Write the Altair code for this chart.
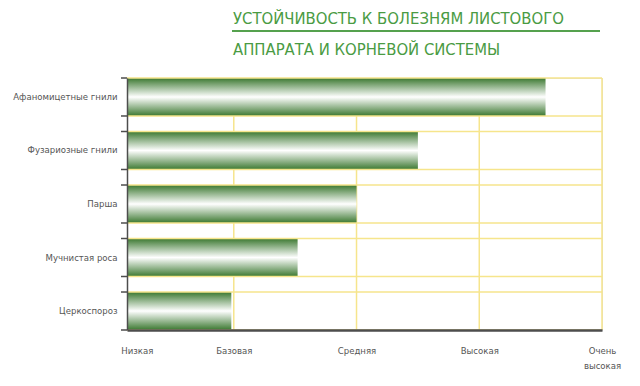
import altair as alt
import pandas as pd

# ---- data ----
categories = ["Афаномицетные гнили", "Фузариозные гнили", "Парша", "Мучнистая роса", "Церкоспороз"]
values = [3.54, 2.5, 2.0, 1.52, 0.98]
level_labels = ["Низкая", "Базовая", "Средняя", "Высокая", "Очень высокая"]
level_positions = [0.21, 1, 2, 3, 4]
grid_values = [1, 2, 3, 4]
x_domain = [0.13, 4]
title_lines = ["УСТОЙЧИВОСТЬ К БОЛЕЗНЯМ ЛИСТОВОГО", "АППАРАТА И КОРНЕВОЙ СИСТЕМЫ"]

W, H = 475, 252
PAD_INNER = 0.29
step = H / (len(categories) - PAD_INNER)
half_bw = step * (1 - PAD_INNER) / 2

FONT = "DejaVu Sans Condensed"
GREEN = "#3b7830"
YELLOW = "#f6e58c"
AXIS_GRAY = "#4d4d4d"
TEXT_GRAY = "#555555"
TITLE_GREEN = "#4a9b43"

df = pd.DataFrame({"cat": categories, "val": values})
grid_df = pd.DataFrame({"g": grid_values})

# label expression built from the lists
expr = "''"
for pos, lab in zip(reversed(level_positions), reversed(level_labels)):
    parts = lab.split(" ")
    txt = "[" + ",".join(f"'{p}'" for p in parts) + "]" if len(parts) > 1 else f"'{lab}'"
    expr = f"abs(datum.value - {pos}) < 0.05 ? {txt} : ({expr})"

xscale = alt.Scale(domain=x_domain, nice=False, zero=False, clamp=True)
yscale = alt.Scale(domain=categories, paddingInner=PAD_INNER, paddingOuter=0)

xaxis = alt.Axis(
    values=level_positions, labelExpr=expr, grid=False, ticks=False, tickSize=0,
    domainColor=AXIS_GRAY, domainWidth=2.5, labelPadding=15, labelFlush=False,
    labelOverlap=False, labelFont=FONT, labelFontSize=9.5, labelColor=TEXT_GRAY,
    labelBaseline="top", labelLineHeight=15, title=None, zindex=1,
)
yaxis = alt.Axis(
    ticks=False, tickSize=0, domainColor=AXIS_GRAY, domainWidth=1.5, labelPadding=10,
    labelFont=FONT, labelFontSize=9.5, labelColor=TEXT_GRAY, title=None, grid=False,
    labelLimit=200, zindex=1,
)

vgrid = alt.Chart(grid_df).mark_rule(color=YELLOW, strokeWidth=1.5).encode(
    x=alt.X("g:Q", scale=xscale, axis=xaxis)
)

gradient = alt.Gradient(
    gradient="linear",
    stops=[
        alt.GradientStop(color=GREEN, offset=0),
        alt.GradientStop(color="#ffffff", offset=0.5),
        alt.GradientStop(color=GREEN, offset=1),
    ],
    x1=0, x2=0, y1=0, y2=1,
)

bars = alt.Chart(df).mark_bar(color=gradient).encode(
    x=alt.X("val:Q", scale=xscale, axis=xaxis),
    y=alt.Y("cat:N", sort=categories, scale=yscale, axis=yaxis),
)

def edge_rules(offset, color, x0, x1, sw):
    return alt.Chart(df).mark_rule(color=color, strokeWidth=sw, yOffset=offset).encode(
        y=alt.Y("cat:N", sort=categories, scale=yscale, axis=yaxis),
        x=alt.value(x0), x2=alt.value(x1),
    )

hgrid_top = edge_rules(-half_bw, YELLOW, 0, W, 1.5)
hgrid_bot = edge_rules(half_bw, YELLOW, 0, W, 1.5)
tick_top = edge_rules(-half_bw, AXIS_GRAY, -6, 0, 1.5)
tick_bot = edge_rules(half_bw, AXIS_GRAY, -6, 0, 1.5)

sep = alt.Chart(grid_df).mark_rule(color=TITLE_GREEN, strokeWidth=1).encode(
    x=alt.value(105), x2=alt.value(W - 2), y=alt.value(-47)
)

def title_layer(i, ypix):
    return alt.Chart(pd.DataFrame({"line": [title_lines[i]]})).mark_text(
        font=FONT, fontSize=16.5, color=TITLE_GREEN, align="left", baseline="alphabetic",
    ).encode(text="line:N", x=alt.value(106), y=alt.value(ypix))

title1 = title_layer(0, -54)
title2 = title_layer(1, -23)

chart = alt.layer(vgrid, bars, hgrid_top, hgrid_bot, tick_top, tick_bot, sep, title1, title2).properties(
    width=W, height=H,
    autosize=alt.AutoSizeParams(type="none"),
    padding={"left": 119, "top": 70, "right": 30, "bottom": 48},
).configure_view(stroke=None).configure(background="white")

chart.save("out.html", embed_options={"renderer": "svg", "actions": False})
